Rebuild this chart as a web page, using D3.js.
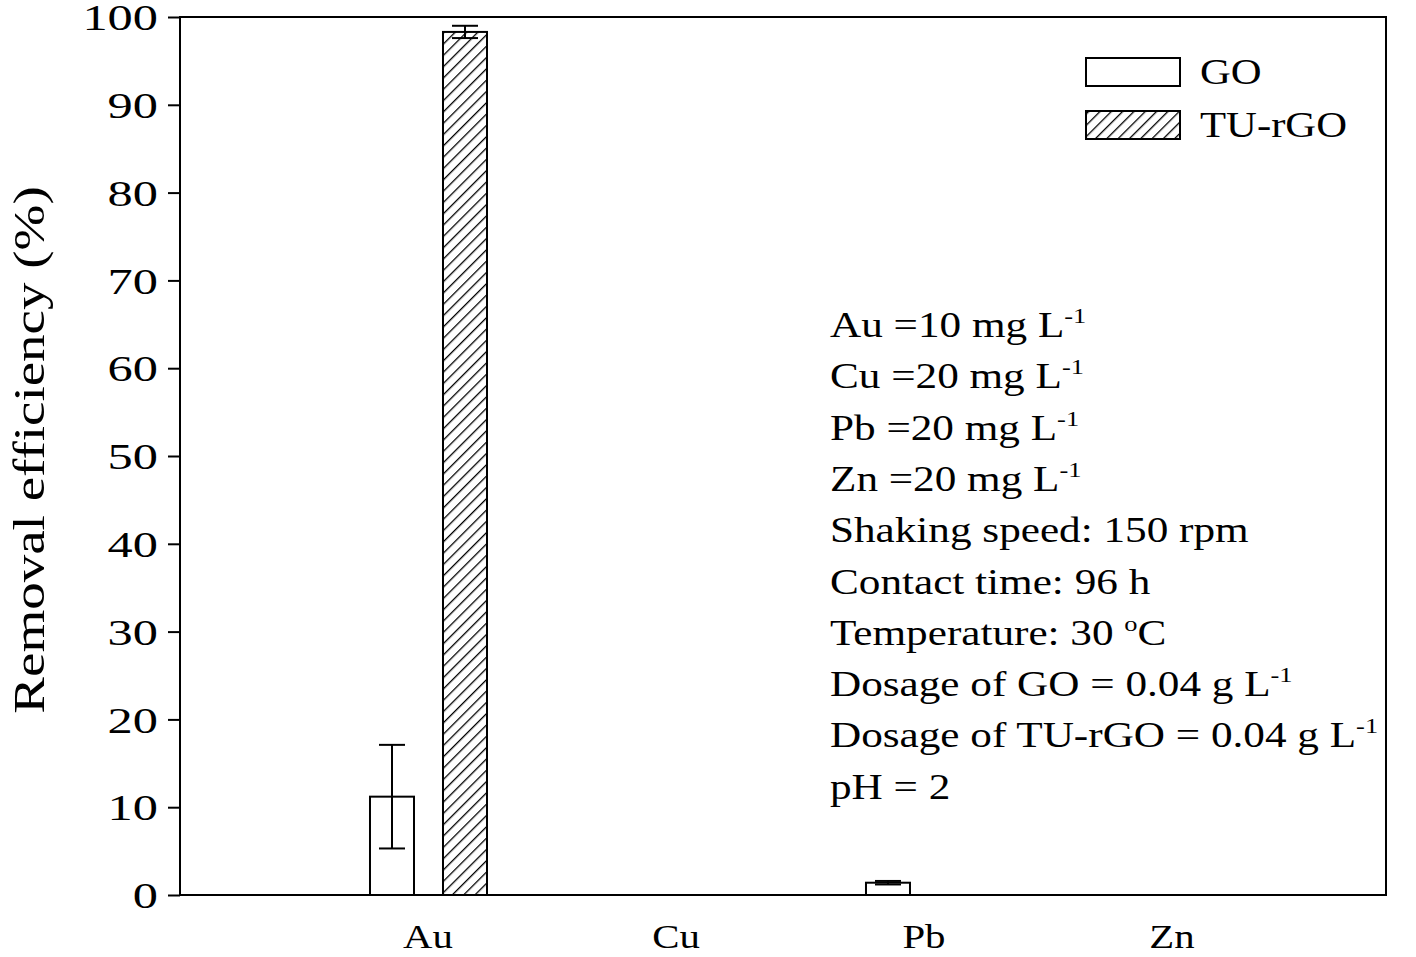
<!DOCTYPE html>
<html><head><meta charset="utf-8">
<script src="https://cdn.jsdelivr.net/npm/d3@7"></script>
<style>body{margin:0;background:#fff}text{font-family:"Liberation Serif","Times New Roman",serif}</style>
</head><body>
<svg id="c" width="1416" height="957"></svg>
<script>
// data
var metals = ["Au", "Cu", "Pb", "Zn"];
var goVals = [11.2, 0, 1.4, 0];
var goErr = [5.9, 0, 0.2, 0];
var turgoVals = [98.3, 0, 0, 0];
var turgoErr = [0.7, 0, 0, 0];
var yTicks = [0, 10, 20, 30, 40, 50, 60, 70, 80, 90, 100];
var notes = ["Au =10 mg L|-1", "Cu =20 mg L|-1", "Pb =20 mg L|-1", "Zn =20 mg L|-1",
  "Shaking speed: 150 rpm", "Contact time: 96 h", "Temperature: 30 |o|C",
  "Dosage of GO = 0.04 g L|-1", "Dosage of TU-rGO = 0.04 g L|-1", "pH = 2"];

var svg = d3.select("#c");
var L = 180, R = 1386, T = 17, B = 895;
var x = d3.scaleLinear().domain([0, 4.863]).range([L, R]);
var y = d3.scaleLinear().domain([0, 100]).range([B, T]);
var bw = 44;

// widen text horizontally (reference glyphs are broader)
function stretch(sel, f) {
  sel.each(function() {
    var w = this.getComputedTextLength();
    d3.select(this).attr("textLength", w * f).attr("lengthAdjust", "spacingAndGlyphs");
  });
}

var defs = svg.append("defs");
var pat = defs.append("pattern").attr("id", "hatch").attr("patternUnits", "userSpaceOnUse")
  .attr("width", 8).attr("height", 8).attr("patternTransform", "rotate(45)");
pat.append("rect").attr("width", 8).attr("height", 8).attr("fill", "#fff");
pat.append("line").attr("x1", 0).attr("y1", 0).attr("x2", 0).attr("y2", 8)
  .attr("stroke", "#000").attr("stroke-width", 2.6);

// frame
svg.append("rect").attr("x", L).attr("y", T).attr("width", R - L).attr("height", B - T)
  .attr("fill", "none").attr("stroke", "#000").attr("stroke-width", 2);

var ya = svg.append("g").attr("transform", "translate(" + L + ",0)")
  .call(d3.axisLeft(y).tickValues(yTicks).tickSize(12).tickPadding(10));
ya.select(".domain").remove();
ya.selectAll("line").attr("stroke-width", 2);
ya.selectAll("text").style("font-size", "36px").attr("fill", "#000").attr("dy", "0.35em")
  .attr("font-family", "Liberation Serif");
stretch(ya.selectAll("text"), 1.4);

metals.forEach(function(m, i) {
  var t = svg.append("text").attr("x", x(i + 1)).attr("y", 948).attr("text-anchor", "middle")
    .style("font-size", "34px").text(m);
  stretch(t, 1.2);
});

function bars(vals, errs, off, fill) {
  vals.forEach(function(v, i) {
    var cx = x(i + 1) + off;
    svg.append("rect").attr("x", cx - bw / 2).attr("y", y(v)).attr("width", bw)
      .attr("height", Math.max(0, B - y(v))).attr("fill", fill).attr("stroke", "#000").attr("stroke-width", 2);
    if (errs[i] > 0) {
      var g = svg.append("g").attr("stroke", "#000").attr("stroke-width", 2);
      g.append("line").attr("x1", cx).attr("x2", cx).attr("y1", y(v - errs[i])).attr("y2", y(v + errs[i]));
      [v - errs[i], v + errs[i]].forEach(function(e) {
        g.append("line").attr("x1", cx - 13).attr("x2", cx + 13).attr("y1", y(e)).attr("y2", y(e));
      });
    }
  });
}
bars(goVals, goErr, -36, "#fff");
bars(turgoVals, turgoErr, 37, "url(#hatch)");

// legend
[["GO", "#fff"], ["TU-rGO", "url(#hatch)"]].forEach(function(d, i) {
  svg.append("rect").attr("x", 1086).attr("y", 58 + i * 53).attr("width", 94).attr("height", 28)
    .attr("fill", d[1]).attr("stroke", "#000").attr("stroke-width", 2);
  var t = svg.append("text").attr("x", 1200).attr("y", 84 + i * 53).style("font-size", "35px").text(d[0]);
  stretch(t, 1.22);
});

// conditions
notes.forEach(function(s, i) {
  var t = svg.append("text").attr("transform", "translate(830," + (337 + i * 51.3) + ") scale(1.2,1)")
    .style("font-size", "36px");
  s.split("|").forEach(function(p, j) {
    var sup = (p === "-1" || p === "o");
    t.append("tspan").text(p).style("font-size", sup ? "22px" : null)
      .attr("dy", sup ? -14 : (j > 0 ? 14 : 0));
  });
});

var yl = svg.append("text").attr("transform", "translate(44,450) rotate(-90)").attr("text-anchor", "middle")
  .style("font-size", "44px").text("Removal efficiency (%)");
stretch(yl, 1.25);
</script>
</body></html>
